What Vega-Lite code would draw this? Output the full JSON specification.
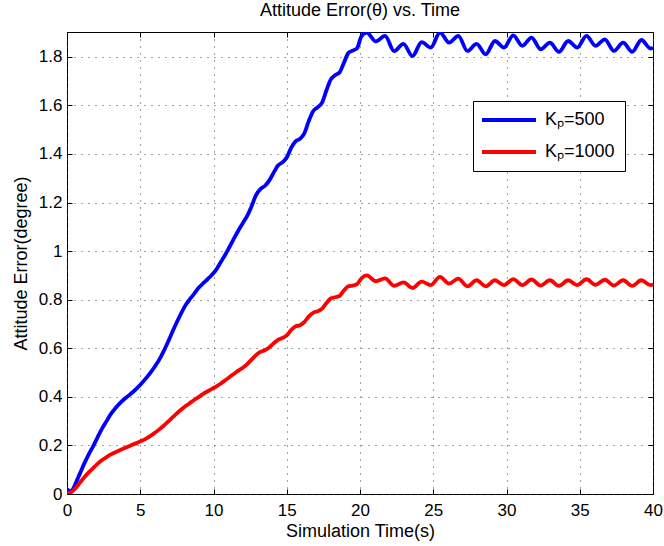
{
  "$schema": "https://vega.github.io/schema/vega-lite/v6.json",
  "width": 586,
  "height": 462,
  "autosize": {"type": "none"},
  "padding": {"left": 67, "top": 32, "right": 11, "bottom": 52},
  "background": "white",
  "title": {"text": "Attitude Error(θ) vs. Time", "fontSize": 18, "font": "Liberation Sans", "fontWeight": "normal", "anchor": "middle", "frame": "group", "offset": 12, "color": "black"},
  "config": {
    "view": {"stroke": "black", "strokeWidth": 1},
    "font": "Liberation Sans",
    "axis": {
      "domain": false,
      "labelFont": "Liberation Sans",
      "labelFontSize": 17,
      "labelColor": "black",
      "titleFont": "Liberation Sans",
      "titleFontSize": 18,
      "titleFontWeight": "normal",
      "titleColor": "black",
      "tickColor": "black",
      "tickSize": -5,
      "gridColor": "#444444",
      "gridDash": [1, 6],
      "gridWidth": 1
    }
  },
  "data": {"values": [
    {"t": 0.0, "v": 0.020, "s": "Kₚ=500"},
    {"t": 0.2, "v": 0.012, "s": "Kₚ=500"},
    {"t": 0.4, "v": 0.020, "s": "Kₚ=500"},
    {"t": 0.6, "v": 0.045, "s": "Kₚ=500"},
    {"t": 0.9, "v": 0.087, "s": "Kₚ=500"},
    {"t": 1.2, "v": 0.128, "s": "Kₚ=500"},
    {"t": 1.5, "v": 0.165, "s": "Kₚ=500"},
    {"t": 1.8, "v": 0.198, "s": "Kₚ=500"},
    {"t": 2.1, "v": 0.235, "s": "Kₚ=500"},
    {"t": 2.4, "v": 0.270, "s": "Kₚ=500"},
    {"t": 2.7, "v": 0.300, "s": "Kₚ=500"},
    {"t": 3.0, "v": 0.330, "s": "Kₚ=500"},
    {"t": 3.3, "v": 0.353, "s": "Kₚ=500"},
    {"t": 3.6, "v": 0.373, "s": "Kₚ=500"},
    {"t": 3.9, "v": 0.390, "s": "Kₚ=500"},
    {"t": 4.2, "v": 0.405, "s": "Kₚ=500"},
    {"t": 4.5, "v": 0.420, "s": "Kₚ=500"},
    {"t": 4.8, "v": 0.437, "s": "Kₚ=500"},
    {"t": 5.1, "v": 0.456, "s": "Kₚ=500"},
    {"t": 5.4, "v": 0.477, "s": "Kₚ=500"},
    {"t": 5.7, "v": 0.500, "s": "Kₚ=500"},
    {"t": 6.0, "v": 0.525, "s": "Kₚ=500"},
    {"t": 6.3, "v": 0.553, "s": "Kₚ=500"},
    {"t": 6.6, "v": 0.588, "s": "Kₚ=500"},
    {"t": 6.9, "v": 0.627, "s": "Kₚ=500"},
    {"t": 7.2, "v": 0.668, "s": "Kₚ=500"},
    {"t": 7.5, "v": 0.708, "s": "Kₚ=500"},
    {"t": 7.8, "v": 0.745, "s": "Kₚ=500"},
    {"t": 8.1, "v": 0.778, "s": "Kₚ=500"},
    {"t": 8.4, "v": 0.803, "s": "Kₚ=500"},
    {"t": 8.7, "v": 0.826, "s": "Kₚ=500"},
    {"t": 9.0, "v": 0.850, "s": "Kₚ=500"},
    {"t": 9.3, "v": 0.868, "s": "Kₚ=500"},
    {"t": 9.6, "v": 0.885, "s": "Kₚ=500"},
    {"t": 9.9, "v": 0.903, "s": "Kₚ=500"},
    {"t": 10.2, "v": 0.925, "s": "Kₚ=500"},
    {"t": 10.5, "v": 0.955, "s": "Kₚ=500"},
    {"t": 10.8, "v": 0.985, "s": "Kₚ=500"},
    {"t": 11.1, "v": 1.018, "s": "Kₚ=500"},
    {"t": 11.4, "v": 1.052, "s": "Kₚ=500"},
    {"t": 11.7, "v": 1.085, "s": "Kₚ=500"},
    {"t": 12.0, "v": 1.115, "s": "Kₚ=500"},
    {"t": 12.3, "v": 1.145, "s": "Kₚ=500"},
    {"t": 12.6, "v": 1.185, "s": "Kₚ=500"},
    {"t": 12.9, "v": 1.230, "s": "Kₚ=500"},
    {"t": 13.2, "v": 1.255, "s": "Kₚ=500"},
    {"t": 13.5, "v": 1.268, "s": "Kₚ=500"},
    {"t": 13.8, "v": 1.290, "s": "Kₚ=500"},
    {"t": 14.1, "v": 1.322, "s": "Kₚ=500"},
    {"t": 14.4, "v": 1.352, "s": "Kₚ=500"},
    {"t": 14.7, "v": 1.365, "s": "Kₚ=500"},
    {"t": 15.0, "v": 1.385, "s": "Kₚ=500"},
    {"t": 15.3, "v": 1.425, "s": "Kₚ=500"},
    {"t": 15.6, "v": 1.452, "s": "Kₚ=500"},
    {"t": 15.9, "v": 1.462, "s": "Kₚ=500"},
    {"t": 16.2, "v": 1.485, "s": "Kₚ=500"},
    {"t": 16.5, "v": 1.535, "s": "Kₚ=500"},
    {"t": 16.8, "v": 1.576, "s": "Kₚ=500"},
    {"t": 17.1, "v": 1.592, "s": "Kₚ=500"},
    {"t": 17.4, "v": 1.610, "s": "Kₚ=500"},
    {"t": 17.7, "v": 1.660, "s": "Kₚ=500"},
    {"t": 18.0, "v": 1.706, "s": "Kₚ=500"},
    {"t": 18.3, "v": 1.724, "s": "Kₚ=500"},
    {"t": 18.6, "v": 1.735, "s": "Kₚ=500"},
    {"t": 18.9, "v": 1.775, "s": "Kₚ=500"},
    {"t": 19.2, "v": 1.815, "s": "Kₚ=500"},
    {"t": 19.5, "v": 1.825, "s": "Kₚ=500"},
    {"t": 19.8, "v": 1.835, "s": "Kₚ=500"},
    {"t": 20.1, "v": 1.885, "s": "Kₚ=500"},
    {"t": 20.46, "v": 1.900, "s": "Kₚ=500"},
    {"t": 21.08, "v": 1.863, "s": "Kₚ=500"},
    {"t": 21.71, "v": 1.886, "s": "Kₚ=500"},
    {"t": 22.33, "v": 1.823, "s": "Kₚ=500"},
    {"t": 22.96, "v": 1.853, "s": "Kₚ=500"},
    {"t": 23.58, "v": 1.803, "s": "Kₚ=500"},
    {"t": 24.21, "v": 1.860, "s": "Kₚ=500"},
    {"t": 24.83, "v": 1.838, "s": "Kₚ=500"},
    {"t": 25.46, "v": 1.900, "s": "Kₚ=500"},
    {"t": 26.08, "v": 1.858, "s": "Kₚ=500"},
    {"t": 26.71, "v": 1.886, "s": "Kₚ=500"},
    {"t": 27.33, "v": 1.824, "s": "Kₚ=500"},
    {"t": 27.96, "v": 1.853, "s": "Kₚ=500"},
    {"t": 28.58, "v": 1.810, "s": "Kₚ=500"},
    {"t": 29.21, "v": 1.865, "s": "Kₚ=500"},
    {"t": 29.83, "v": 1.838, "s": "Kₚ=500"},
    {"t": 30.46, "v": 1.888, "s": "Kₚ=500"},
    {"t": 31.08, "v": 1.845, "s": "Kₚ=500"},
    {"t": 31.71, "v": 1.879, "s": "Kₚ=500"},
    {"t": 32.33, "v": 1.831, "s": "Kₚ=500"},
    {"t": 32.96, "v": 1.858, "s": "Kₚ=500"},
    {"t": 33.58, "v": 1.820, "s": "Kₚ=500"},
    {"t": 34.21, "v": 1.865, "s": "Kₚ=500"},
    {"t": 34.83, "v": 1.838, "s": "Kₚ=500"},
    {"t": 35.46, "v": 1.886, "s": "Kₚ=500"},
    {"t": 36.08, "v": 1.845, "s": "Kₚ=500"},
    {"t": 36.71, "v": 1.872, "s": "Kₚ=500"},
    {"t": 37.33, "v": 1.824, "s": "Kₚ=500"},
    {"t": 37.96, "v": 1.858, "s": "Kₚ=500"},
    {"t": 38.58, "v": 1.820, "s": "Kₚ=500"},
    {"t": 39.21, "v": 1.869, "s": "Kₚ=500"},
    {"t": 39.83, "v": 1.834, "s": "Kₚ=500"},
    {"t": 40.0, "v": 1.838, "s": "Kₚ=500"},
    {"t": 0.0, "v": 0.003, "s": "Kₚ=1000"},
    {"t": 0.3, "v": 0.008, "s": "Kₚ=1000"},
    {"t": 0.6, "v": 0.025, "s": "Kₚ=1000"},
    {"t": 0.9, "v": 0.048, "s": "Kₚ=1000"},
    {"t": 1.2, "v": 0.070, "s": "Kₚ=1000"},
    {"t": 1.5, "v": 0.090, "s": "Kₚ=1000"},
    {"t": 1.8, "v": 0.108, "s": "Kₚ=1000"},
    {"t": 2.1, "v": 0.125, "s": "Kₚ=1000"},
    {"t": 2.4, "v": 0.140, "s": "Kₚ=1000"},
    {"t": 2.7, "v": 0.152, "s": "Kₚ=1000"},
    {"t": 3.0, "v": 0.163, "s": "Kₚ=1000"},
    {"t": 3.3, "v": 0.172, "s": "Kₚ=1000"},
    {"t": 3.6, "v": 0.180, "s": "Kₚ=1000"},
    {"t": 3.9, "v": 0.188, "s": "Kₚ=1000"},
    {"t": 4.2, "v": 0.196, "s": "Kₚ=1000"},
    {"t": 4.5, "v": 0.204, "s": "Kₚ=1000"},
    {"t": 4.8, "v": 0.211, "s": "Kₚ=1000"},
    {"t": 5.1, "v": 0.219, "s": "Kₚ=1000"},
    {"t": 5.4, "v": 0.228, "s": "Kₚ=1000"},
    {"t": 5.7, "v": 0.239, "s": "Kₚ=1000"},
    {"t": 6.0, "v": 0.252, "s": "Kₚ=1000"},
    {"t": 6.3, "v": 0.266, "s": "Kₚ=1000"},
    {"t": 6.6, "v": 0.281, "s": "Kₚ=1000"},
    {"t": 6.9, "v": 0.298, "s": "Kₚ=1000"},
    {"t": 7.2, "v": 0.315, "s": "Kₚ=1000"},
    {"t": 7.5, "v": 0.332, "s": "Kₚ=1000"},
    {"t": 7.8, "v": 0.348, "s": "Kₚ=1000"},
    {"t": 8.1, "v": 0.362, "s": "Kₚ=1000"},
    {"t": 8.4, "v": 0.375, "s": "Kₚ=1000"},
    {"t": 8.7, "v": 0.388, "s": "Kₚ=1000"},
    {"t": 9.0, "v": 0.400, "s": "Kₚ=1000"},
    {"t": 9.3, "v": 0.412, "s": "Kₚ=1000"},
    {"t": 9.6, "v": 0.423, "s": "Kₚ=1000"},
    {"t": 9.9, "v": 0.433, "s": "Kₚ=1000"},
    {"t": 10.2, "v": 0.443, "s": "Kₚ=1000"},
    {"t": 10.5, "v": 0.455, "s": "Kₚ=1000"},
    {"t": 10.8, "v": 0.468, "s": "Kₚ=1000"},
    {"t": 11.1, "v": 0.482, "s": "Kₚ=1000"},
    {"t": 11.4, "v": 0.495, "s": "Kₚ=1000"},
    {"t": 11.7, "v": 0.508, "s": "Kₚ=1000"},
    {"t": 12.0, "v": 0.520, "s": "Kₚ=1000"},
    {"t": 12.3, "v": 0.535, "s": "Kₚ=1000"},
    {"t": 12.6, "v": 0.553, "s": "Kₚ=1000"},
    {"t": 12.9, "v": 0.572, "s": "Kₚ=1000"},
    {"t": 13.2, "v": 0.585, "s": "Kₚ=1000"},
    {"t": 13.5, "v": 0.592, "s": "Kₚ=1000"},
    {"t": 13.8, "v": 0.603, "s": "Kₚ=1000"},
    {"t": 14.1, "v": 0.620, "s": "Kₚ=1000"},
    {"t": 14.4, "v": 0.635, "s": "Kₚ=1000"},
    {"t": 14.7, "v": 0.642, "s": "Kₚ=1000"},
    {"t": 15.0, "v": 0.653, "s": "Kₚ=1000"},
    {"t": 15.3, "v": 0.675, "s": "Kₚ=1000"},
    {"t": 15.6, "v": 0.690, "s": "Kₚ=1000"},
    {"t": 15.9, "v": 0.695, "s": "Kₚ=1000"},
    {"t": 16.2, "v": 0.708, "s": "Kₚ=1000"},
    {"t": 16.5, "v": 0.730, "s": "Kₚ=1000"},
    {"t": 16.8, "v": 0.746, "s": "Kₚ=1000"},
    {"t": 17.1, "v": 0.752, "s": "Kₚ=1000"},
    {"t": 17.4, "v": 0.762, "s": "Kₚ=1000"},
    {"t": 17.7, "v": 0.785, "s": "Kₚ=1000"},
    {"t": 18.0, "v": 0.805, "s": "Kₚ=1000"},
    {"t": 18.3, "v": 0.810, "s": "Kₚ=1000"},
    {"t": 18.6, "v": 0.815, "s": "Kₚ=1000"},
    {"t": 18.9, "v": 0.838, "s": "Kₚ=1000"},
    {"t": 19.2, "v": 0.855, "s": "Kₚ=1000"},
    {"t": 19.5, "v": 0.858, "s": "Kₚ=1000"},
    {"t": 19.8, "v": 0.864, "s": "Kₚ=1000"},
    {"t": 20.1, "v": 0.888, "s": "Kₚ=1000"},
    {"t": 20.46, "v": 0.900, "s": "Kₚ=1000"},
    {"t": 21.08, "v": 0.876, "s": "Kₚ=1000"},
    {"t": 21.71, "v": 0.888, "s": "Kₚ=1000"},
    {"t": 22.33, "v": 0.857, "s": "Kₚ=1000"},
    {"t": 22.96, "v": 0.871, "s": "Kₚ=1000"},
    {"t": 23.58, "v": 0.848, "s": "Kₚ=1000"},
    {"t": 24.21, "v": 0.874, "s": "Kₚ=1000"},
    {"t": 24.83, "v": 0.860, "s": "Kₚ=1000"},
    {"t": 25.46, "v": 0.894, "s": "Kₚ=1000"},
    {"t": 26.08, "v": 0.866, "s": "Kₚ=1000"},
    {"t": 26.71, "v": 0.887, "s": "Kₚ=1000"},
    {"t": 27.33, "v": 0.855, "s": "Kₚ=1000"},
    {"t": 27.96, "v": 0.880, "s": "Kₚ=1000"},
    {"t": 28.58, "v": 0.855, "s": "Kₚ=1000"},
    {"t": 29.21, "v": 0.880, "s": "Kₚ=1000"},
    {"t": 29.83, "v": 0.860, "s": "Kₚ=1000"},
    {"t": 30.46, "v": 0.885, "s": "Kₚ=1000"},
    {"t": 31.08, "v": 0.860, "s": "Kₚ=1000"},
    {"t": 31.71, "v": 0.883, "s": "Kₚ=1000"},
    {"t": 32.33, "v": 0.858, "s": "Kₚ=1000"},
    {"t": 32.96, "v": 0.880, "s": "Kₚ=1000"},
    {"t": 33.58, "v": 0.857, "s": "Kₚ=1000"},
    {"t": 34.21, "v": 0.880, "s": "Kₚ=1000"},
    {"t": 34.83, "v": 0.860, "s": "Kₚ=1000"},
    {"t": 35.46, "v": 0.884, "s": "Kₚ=1000"},
    {"t": 36.08, "v": 0.861, "s": "Kₚ=1000"},
    {"t": 36.71, "v": 0.882, "s": "Kₚ=1000"},
    {"t": 37.33, "v": 0.858, "s": "Kₚ=1000"},
    {"t": 37.96, "v": 0.880, "s": "Kₚ=1000"},
    {"t": 38.58, "v": 0.857, "s": "Kₚ=1000"},
    {"t": 39.21, "v": 0.880, "s": "Kₚ=1000"},
    {"t": 39.83, "v": 0.860, "s": "Kₚ=1000"},
    {"t": 40.0, "v": 0.862, "s": "Kₚ=1000"}
  ]},
  "layer": [
    {
      "mark": {"type": "line", "strokeWidth": 3.8, "interpolate": "monotone", "clip": true},
      "encoding": {
        "x": {"field": "t", "type": "quantitative",
              "scale": {"domain": [0, 40], "nice": false, "zero": false},
              "axis": {"orient": "bottom", "title": "Simulation Time(s)", "values": [0, 5, 10, 15, 20, 25, 30, 35, 40], "grid": true, "labelPadding": 13, "titlePadding": 4, "labelFlush": false}},
        "y": {"field": "v", "type": "quantitative",
              "scale": {"domain": [0, 1.902], "nice": false, "zero": false},
              "axis": {"orient": "left", "title": "Attitude Error(degree)", "values": [0, 0.2, 0.4, 0.6, 0.8, 1, 1.2, 1.4, 1.6, 1.8], "format": "~g", "grid": true, "labelPadding": 10, "titlePadding": 8, "labelFlush": false}},
        "color": {"field": "s", "type": "nominal",
                  "scale": {"domain": ["Kₚ=500", "Kₚ=1000"], "range": ["#0000ff", "#ff0000"]},
                  "legend": {"orient": "none", "legendX": 406, "legendY": 69, "title": null, "symbolType": "M-5,0H5", "symbolSize": 117, "symbolOffset": 17, "symbolStrokeWidth": 3.8, "labelFontSize": 18, "labelFont": "Liberation Sans", "labelColor": "black", "labelOffset": 27, "strokeColor": "black", "fillColor": "white", "padding": 10, "rowPadding": 14, "cornerRadius": 0}}
      }
    },
    {
      "mark": {"type": "line", "opacity": 0},
      "encoding": {
        "x": {"field": "t", "type": "quantitative",
              "axis": {"orient": "top", "title": null, "labels": false, "grid": false, "values": [0, 5, 10, 15, 20, 25, 30, 35, 40]}},
        "y": {"field": "v", "type": "quantitative",
              "axis": {"orient": "right", "title": null, "labels": false, "grid": false, "values": [0, 0.2, 0.4, 0.6, 0.8, 1, 1.2, 1.4, 1.6, 1.8]}},
        "detail": {"field": "s"}
      }
    }
  ],
  "resolve": {"axis": {"x": "independent", "y": "independent"}}
}
